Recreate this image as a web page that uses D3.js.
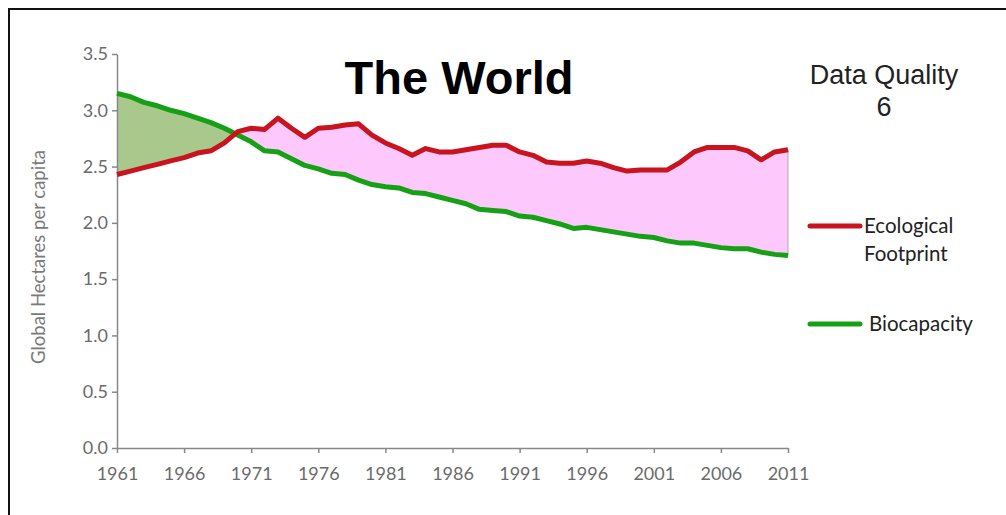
<!DOCTYPE html>
<html lang="en">
<head>
<meta charset="UTF-8">
<title>The World - Ecological Footprint vs Biocapacity</title>
<style>
    body { margin: 0; background: #fff; }
    svg { display: block; }
    .tick text { font-family: Lato, "Open Sans", sans-serif; font-size: 18px; fill: #6b6b6b; }
    .tick line, .domain { stroke: #888; }
</style>
</head>
<body>
<svg width="1006" height="515"></svg>
<script src="https://d3js.org/d3.v7.min.js"></script>
<script>
    const years = d3.range(1961, 2012);

    const footprint = [
        2.43, 2.46, 2.49, 2.52, 2.55, 2.58, 2.62, 2.64, 2.71, 2.81,
        2.84, 2.83, 2.93, 2.84, 2.76, 2.84, 2.85, 2.87, 2.88, 2.78,
        2.71, 2.66, 2.60, 2.66, 2.63, 2.63, 2.65, 2.67, 2.69, 2.69,
        2.63, 2.60, 2.54, 2.53, 2.53, 2.55, 2.53, 2.49, 2.46, 2.47,
        2.47, 2.47, 2.54, 2.63, 2.67, 2.67, 2.67, 2.64, 2.56, 2.63,
        2.65
    ];

    const biocapacity = [
        3.15, 3.12, 3.07, 3.04, 3.00, 2.97, 2.93, 2.89, 2.84, 2.78,
        2.72, 2.64, 2.63, 2.57, 2.51, 2.48, 2.44, 2.43, 2.38, 2.34,
        2.32, 2.31, 2.27, 2.26, 2.23, 2.20, 2.17, 2.12, 2.11, 2.10,
        2.06, 2.05, 2.02, 1.99, 1.95, 1.96, 1.94, 1.92, 1.90, 1.88,
        1.87, 1.84, 1.82, 1.82, 1.80, 1.78, 1.77, 1.77, 1.74, 1.72,
        1.71
    ];

    const xTicks = [1961, 1966, 1971, 1976, 1981, 1986, 1991, 1996, 2001, 2006, 2011];
    const yTicks = [0, 0.5, 1.0, 1.5, 2.0, 2.5, 3.0, 3.5];

    const data = years.map((y, i) => ({ year: y, ef: footprint[i], bc: biocapacity[i] }));

    const svg = d3.select("svg");

    // frame around the slide
    svg.append("rect")
        .attr("x", 9).attr("y", 9)
        .attr("width", 1020).attr("height", 530)
        .attr("fill", "none")
        .attr("stroke", "#111")
        .attr("stroke-width", 2);

    const x = d3.scaleLinear().domain([1961, 2011]).range([117, 788]);
    const y = d3.scaleLinear().domain([0, 3.5]).range([448, 54]);

    const defs = svg.append("defs");

    // region above the biocapacity line -> deficit (pink)
    defs.append("clipPath").attr("id", "above")
        .append("path")
        .attr("d", d3.area().x(d => x(d.year)).y0(0).y1(d => y(d.bc))(data));

    // region below the biocapacity line -> reserve (green)
    defs.append("clipPath").attr("id", "below")
        .append("path")
        .attr("d", d3.area().x(d => x(d.year)).y0(515).y1(d => y(d.bc))(data));

    const between = d3.area()
        .x(d => x(d.year))
        .y0(d => y(d.bc))
        .y1(d => y(d.ef));

    svg.append("path")
        .attr("d", between(data))
        .attr("fill", "#fdc8fb")
        .attr("clip-path", "url(#above)");

    svg.append("path")
        .attr("d", between(data))
        .attr("fill", "#a9c98c")
        .attr("clip-path", "url(#below)");

    const last = data[data.length - 1];
    svg.append("line")
        .attr("x1", x(last.year)).attr("x2", x(last.year))
        .attr("y1", y(last.ef)).attr("y2", y(last.bc))
        .attr("stroke", "#aaa")
        .attr("stroke-width", 1);

    // axes
    svg.append("g")
        .attr("transform", `translate(${x(1961)},0)`)
        .call(d3.axisLeft(y).tickValues(yTicks).tickFormat(d3.format(".1f")).tickSize(5).tickSizeOuter(0).tickPadding(4));

    svg.append("g")
        .attr("transform", `translate(0,${y(0)})`)
        .call(d3.axisBottom(x).tickValues(xTicks).tickFormat(d3.format("d")).tickSize(5).tickSizeOuter(0).tickPadding(14));

    svg.selectAll(".domain, .tick line").attr("stroke-width", 1.5);

    svg.append("text")
        .attr("transform", "translate(45,257) rotate(-90)")
        .attr("text-anchor", "middle")
        .style("font-family", "Lato, 'Open Sans', sans-serif")
        .style("font-size", "18.5px")
        .style("fill", "#7a7a7a")
        .text("Global Hectares per capita");

    // lines
    const line = key => d3.line().x(d => x(d.year)).y(d => y(d[key]));

    svg.append("path")
        .attr("d", line("bc")(data))
        .attr("fill", "none")
        .attr("stroke", "#16a016")
        .attr("stroke-width", 5)
        .attr("stroke-linejoin", "round");

    svg.append("path")
        .attr("d", line("ef")(data))
        .attr("fill", "none")
        .attr("stroke", "#c8141e")
        .attr("stroke-width", 5)
        .attr("stroke-linejoin", "round");

    // titles
    svg.append("text")
        .attr("x", 459).attr("y", 94)
        .attr("text-anchor", "middle")
        .style("font-family", "'Liberation Sans', Arial, sans-serif")
        .style("font-weight", "bold")
        .style("font-size", "47px")
        .style("fill", "#000")
        .text("The World");

    const dq = svg.append("text")
        .attr("text-anchor", "middle")
        .style("font-family", "'Liberation Sans', Arial, sans-serif")
        .style("font-size", "27px")
        .style("fill", "#222");
    dq.append("tspan").attr("x", 884).attr("y", 84).text("Data Quality");
    dq.append("tspan").attr("x", 884).attr("y", 116).text("6");

    // legend
    const legend = [
        { lines: ["Ecological", "Footprint"], color: "#c8141e", y: 226 },
        { lines: ["Biocapacity"], color: "#16a016", y: 324 }
    ];

    legend.forEach(l => {
        svg.append("line")
            .attr("x1", 810).attr("x2", 860)
            .attr("y1", l.y).attr("y2", l.y)
            .attr("stroke", l.color)
            .attr("stroke-width", 5)
            .attr("stroke-linecap", "round");
        const t = svg.append("text")
            .style("font-family", "Lato, 'Open Sans', sans-serif")
            .style("font-size", "20.5px")
            .style("fill", "#222");
        l.lines.forEach((s, i) => {
            t.append("tspan").attr("x", l.lines.length > 1 ? 864 : 869).attr("y", l.y + 7 + i * 28).text(s);
        });
    });
</script>
</body>
</html>
